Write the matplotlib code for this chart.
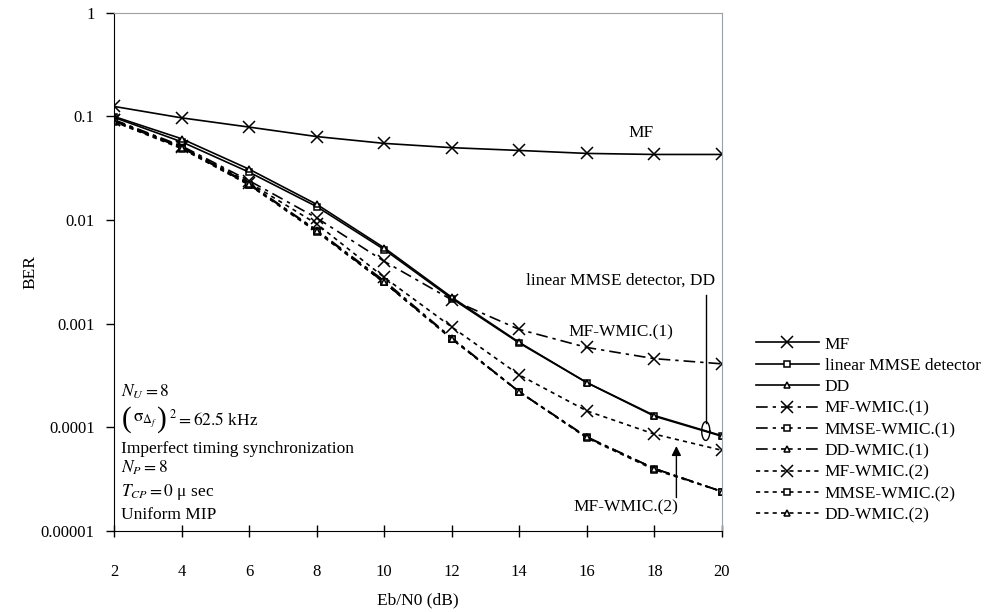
import matplotlib
matplotlib.use("Agg")
import matplotlib.pyplot as plt
import numpy as np

plt.rcParams['font.family'] = ['Liberation Serif', 'DejaVu Serif']
plt.rcParams['mathtext.fontset'] = 'stix'
plt.rcParams['font.size'] = 12.5

# Eb/N0 (dB)
ebn0 = [2, 4, 6, 8, 10, 12, 14, 16, 18, 20]

# BER
mf = [0.125, 0.097, 0.079, 0.064, 0.055, 0.050, 0.047, 0.044, 0.043, 0.043]
mmse = [0.098, 0.057, 0.029, 0.0135, 0.0052, 0.00175, 0.00065, 0.00027, 0.000128, 0.000082]
dd = [0.100, 0.061, 0.031, 0.0142, 0.0054, 0.00180, 0.00066, 0.00027, 0.000130, 0.000083]
mf_wmic1 = [0.093, 0.052, 0.024, 0.0105, 0.0040, 0.00170, 0.00088, 0.00059, 0.00046, 0.00041]
mmse_wmic1 = [0.090, 0.050, 0.022, 0.0079, 0.0025, 0.00072, 0.00022, 0.000080, 0.000040, 0.000024]
dd_wmic1 = [0.091, 0.051, 0.0225, 0.0080, 0.0026, 0.00073, 0.00022, 0.000081, 0.000040, 0.000024]
mf_wmic2 = [0.092, 0.051, 0.023, 0.0092, 0.0028, 0.00093, 0.00032, 0.000144, 0.000086, 0.000060]
mmse_wmic2 = [0.089, 0.049, 0.0218, 0.0077, 0.0025, 0.00071, 0.00022, 0.000079, 0.000039, 0.000024]
dd_wmic2 = [0.090, 0.050, 0.0222, 0.0079, 0.0025, 0.00072, 0.00022, 0.000080, 0.000040, 0.000024]

fig = plt.figure(figsize=(9.87, 6.12), dpi=100)
ax = fig.add_axes([0.1155, 0.1324, 0.616, 0.8466])

solid = '-'
dashdot = (0, (7, 3, 2, 3))
dotted = (0, (2.5, 2.5))

def draw(y, ls, mk, label):
    ms = 8 if mk == 'x' else 5
    ax.plot(ebn0, y, color='black', linestyle=ls, linewidth=1.2, marker=mk,
            markersize=ms, markerfacecolor='white', markeredgecolor='black',
            markeredgewidth=1.1, label=label)

draw(mf, solid, 'x', 'MF')
draw(mmse, solid, 's', 'linear MMSE detector')
draw(dd, solid, '^', 'DD')
draw(mf_wmic1, dashdot, 'x', 'MF-WMIC.(1)')
draw(mmse_wmic1, dashdot, 's', 'MMSE-WMIC.(1)')
draw(dd_wmic1, dashdot, '^', 'DD-WMIC.(1)')
draw(mf_wmic2, dotted, 'x', 'MF-WMIC.(2)')
draw(mmse_wmic2, dotted, 's', 'MMSE-WMIC.(2)')
draw(dd_wmic2, dotted, '^', 'DD-WMIC.(2)')

ax.set_yscale('log')
ax.set_xlim(2, 20)
ax.set_ylim(1e-5, 1)
ax.set_xticks(ebn0)
ax.set_xticklabels([str(v) for v in ebn0])
ax.set_yticks([1, 0.1, 0.01, 0.001, 0.0001, 0.00001])
ax.set_yticklabels(['1', '0.1', '0.01', '0.001', '0.0001', '0.00001'])
ax.minorticks_off()
ax.tick_params(axis='x', direction='inout', length=8, width=1, pad=20, labelsize=12)
ax.tick_params(axis='y', direction='out', length=6, width=1, pad=8, labelsize=12)
ax.spines['top'].set_color('#9aa0a6')
ax.spines['right'].set_color('#9aa0a6')
ax.set_xlabel('Eb/N0 (dB)')
ax.set_ylabel('BER')
ax.xaxis.set_label_coords(0.5, -0.118)
ax.yaxis.set_label_coords(-0.125, 0.5)

# annotations
ax.text(17.6, 0.058, 'MF', ha='center', va='bottom')
ax.text(17.0, 0.0026, 'linear MMSE detector, DD', ha='center', va='center')
ax.text(17.0, 0.00083, 'MF-WMIC.(1)', ha='center', va='center')
ax.plot([19.52, 19.52], [0.0019, 0.000111], color='black', linewidth=1.0)
t = np.linspace(0, 2 * np.pi, 100)
ax.plot(19.52 + 0.12 * np.cos(t), 10 ** (np.log10(9.2e-5) + 0.09 * np.sin(t)),
        color='black', linewidth=1.0)
ax.annotate('', xy=(18.65, 6.6e-5), xytext=(18.65, 2.1e-5),
            arrowprops=dict(arrowstyle='-|>', color='black', lw=1.0,
                            mutation_scale=14, shrinkA=0, shrinkB=0))
ax.text(18.7, 1.7e-5, 'MF-WMIC.(2)', ha='right', va='center')

# parameter block, lower left
bx = 0.012
ax.text(bx, 0.268, r'$N_U = 8$', transform=ax.transAxes, va='center')
sig = dict(xy=(bx, 0.212), xycoords='axes fraction', textcoords='offset points',
           va='center', ha='left')
ax.annotate('(', xytext=(0, 1), fontsize=21, **sig)
ax.annotate(r'$\mathrm{\sigma}_{\Delta_f}$', xytext=(8.5, 0), **sig)
ax.annotate(')', xytext=(26, 1), fontsize=21, **sig)
ax.annotate(r'$^2 = 62.5$ kHz', xytext=(34, 1), **sig)
ax.text(bx, 0.158, 'Imperfect timing synchronization', transform=ax.transAxes, va='center')
ax.text(bx, 0.121, r'$N_P = 8$', transform=ax.transAxes, va='center')
ax.text(bx, 0.075, r'$T_{CP} = 0$ μ sec', transform=ax.transAxes, va='center')
ax.text(bx, 0.031, 'Uniform MIP', transform=ax.transAxes, va='center')

ax.legend(loc='center left', bbox_to_anchor=(1.056, 0.195), frameon=False,
          handlelength=3.6, handletextpad=0.35, borderpad=0, borderaxespad=0,
          labelspacing=0.3, numpoints=1)

fig.savefig('out.png', dpi=100)
